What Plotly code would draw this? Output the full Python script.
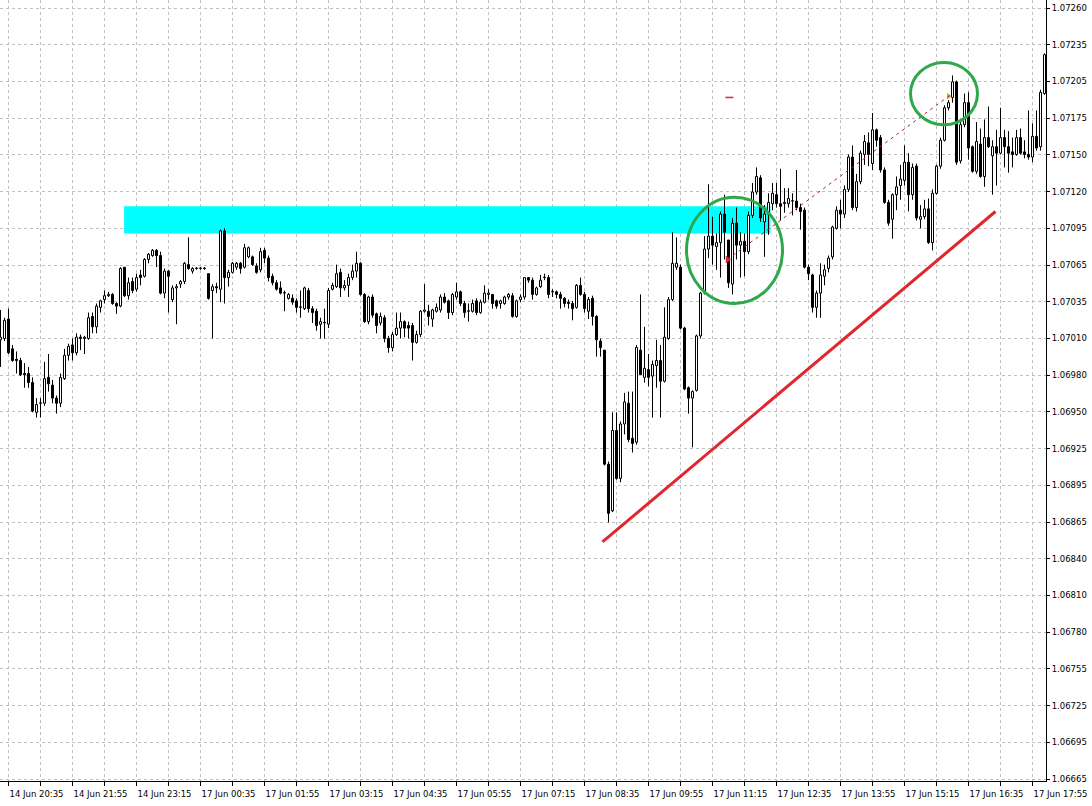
import plotly.graph_objects as go
import numpy as np

# 5-minute bars, prices in points (1e-5)
opens = [
    107004, 107005, 107020, 106997, 106989, 106988, 106978, 106978, 106971, 106948, 106955, 106955, 106975, 106969, 106959, 106955,
    106974, 106992, 107000, 106994, 107006, 107005, 107005, 107022, 107014, 107029, 107035, 107038, 107039, 107032, 107030, 107060, 107038,
    107049, 107043, 107054, 107053, 107066, 107069, 107073, 107069, 107040, 107057, 107035, 107044, 107047, 107049, 107062, 107057,
    107059, 107059, 107059, 107055, 107042, 107045, 107043, 107088, 107052, 107056, 107060, 107063, 107060, 107068, 107068, 107061,
    107058, 107073, 107067, 107053, 107048, 107044, 107040, 107036, 107036, 107034, 107029, 107028, 107042, 107028, 107026, 107016,
    107017, 107016, 107043, 107045, 107056, 107044, 107046, 107052, 107057, 107063, 107039, 107018, 107037, 107024, 107017, 107021, 107005,
    106998, 107008, 107013, 107018, 107015, 107015, 107002, 107008, 107026, 107026, 107020, 107026, 107027, 107037, 107034, 107025,
    107037, 107041, 107032, 107026, 107026, 107034, 107025, 107033, 107039, 107039, 107034, 107032, 107032, 107037, 107038, 107022,
    107035, 107037, 107052, 107050, 107039, 107045, 107052, 107052, 107041, 107041, 107039, 107036, 107033, 107032, 107029, 107046,
    107039, 107026, 107036, 107022, 107003, 106996, 106908, 106872, 106934, 106897, 106939, 106955, 106928, 106925, 106996, 106975, 106981,
    106976, 106984, 106988, 106972, 107005, 107035, 107060, 107060, 107013, 106967, 106959, 106965, 107007, 107040, 107074, 107084,
    107076, 107079, 107101, 107081, 107047, 107094, 107077, 107080, 107072, 107100, 107118, 107129, 107095, 107101, 107109, 107116,
    107109, 107109, 107109, 107111, 107111, 107106, 107104, 107060, 107054, 107029, 107040, 107053, 107059, 107068, 107090, 107104,
    107101, 107120, 107145, 107106, 107126, 107147, 107156, 107140, 107166, 107160, 107135, 107110, 107097, 107116, 107123, 107127, 107141,
    107116, 107138, 107097, 107099, 107105, 107079, 107117, 107138, 107158, 107183, 107191, 107203, 107142, 107170, 107187, 107153,
    107134, 107155, 107130, 107160, 107146, 107153, 107148, 107160, 107153, 107149, 107147, 107160, 107149, 107147, 107145, 107161, 107153, 107194,
]
highs = [
    107027, 107021, 107028, 107000, 106995, 106990, 106986, 106983, 106975, 106959, 106959, 106987, 106993, 106973, 106961, 106978,
    106997, 107001, 107005, 107009, 107008, 107007, 107025, 107025, 107032, 107035, 107042, 107041, 107040, 107033, 107060, 107060, 107052,
    107052, 107055, 107058, 107067, 107071, 107074, 107074, 107072, 107059, 107058, 107046, 107047, 107050, 107064, 107083, 107060,
    107060, 107060, 107060, 107055, 107047, 107048, 107089, 107090, 107058, 107064, 107064, 107064, 107078, 107076, 107069, 107063,
    107075, 107075, 107069, 107055, 107050, 107049, 107042, 107040, 107039, 107036, 107042, 107045, 107044, 107030, 107028, 107021,
    107028, 107044, 107048, 107062, 107059, 107050, 107055, 107062, 107072, 107064, 107040, 107038, 107039, 107025, 107025, 107023, 107007,
    107010, 107025, 107025, 107019, 107018, 107017, 107011, 107027, 107047, 107031, 107028, 107032, 107039, 107040, 107035, 107040,
    107048, 107042, 107034, 107032, 107035, 107036, 107035, 107046, 107043, 107039, 107035, 107035, 107038, 107040, 107040, 107035,
    107039, 107052, 107052, 107052, 107045, 107054, 107055, 107054, 107043, 107042, 107041, 107037, 107035, 107034, 107047, 107052,
    107041, 107037, 107038, 107023, 107005, 106996, 106910, 106948, 106948, 106941, 106963, 106964, 106964, 107000, 107039, 107014, 106993,
    106988, 107004, 107000, 107029, 107037, 107087, 107083, 107062, 107014, 106968, 106965, 107008, 107041, 107084, 107124, 107099,
    107086, 107103, 107116, 107081, 107098, 107106, 107087, 107086, 107103, 107125, 107137, 107131, 107108, 107117, 107125, 107125,
    107136, 107121, 107121, 107117, 107135, 107109, 107106, 107062, 107055, 107042, 107063, 107062, 107069, 107092, 107107, 107112,
    107123, 107147, 107154, 107132, 107150, 107162, 107164, 107179, 107167, 107162, 107137, 107112, 107117, 107130, 107139, 107154, 107148,
    107140, 107140, 107108, 107112, 107113, 107120, 107139, 107160, 107185, 107189, 107208, 107204, 107174, 107194, 107195, 107154,
    107172, 107167, 107174, 107184, 107158, 107166, 107183, 107166, 107165, 107160, 107166, 107167, 107158, 107181, 107171, 107181, 107197, 107225,
]
lows = [
    106983, 107003, 106993, 106987, 106978, 106976, 106967, 106967, 106948, 106944, 106944, 106953, 106964, 106955, 106947, 106952,
    106973, 106988, 106988, 106992, 106996, 106993, 107004, 107009, 107009, 107025, 107032, 107037, 107031, 107024, 107029, 107037, 107035,
    107040, 107041, 107046, 107052, 107063, 107068, 107060, 107039, 107036, 107025, 107033, 107016, 107044, 107047, 107058, 107055,
    107058, 107058, 107058, 107035, 107005, 107040, 107033, 107032, 107045, 107055, 107058, 107055, 107059, 107067, 107061, 107055,
    107056, 107063, 107049, 107046, 107042, 107039, 107026, 107035, 107031, 107025, 107021, 107027, 107025, 107017, 107011, 107005,
    107005, 107013, 107042, 107044, 107037, 107042, 107037, 107050, 107052, 107038, 107017, 107016, 107021, 107009, 107015, 107002, 106994,
    106995, 107007, 107005, 107006, 107005, 106988, 107001, 107006, 107025, 107015, 107014, 107025, 107025, 107032, 107020, 107023,
    107035, 107030, 107021, 107018, 107025, 107023, 107024, 107032, 107035, 107028, 107028, 107028, 107031, 107035, 107021, 107021,
    107033, 107035, 107048, 107035, 107038, 107044, 107050, 107036, 107037, 107036, 107028, 107029, 107028, 107019, 107028, 107038,
    107025, 107020, 107015, 106991, 106991, 106907, 106863, 106871, 106896, 106894, 106931, 106925, 106917, 106923, 106977, 106971, 106968,
    106944, 106967, 106944, 106971, 107004, 107034, 107058, 107012, 106965, 106947, 106921, 106964, 107005, 107039, 107067, 107062,
    107058, 107052, 107066, 107044, 107039, 107066, 107052, 107053, 107070, 107098, 107116, 107095, 107068, 107085, 107104, 107106,
    107096, 107102, 107106, 107100, 107104, 107089, 107059, 107050, 107025, 107021, 107021, 107046, 107056, 107066, 107089, 107090,
    107098, 107118, 107104, 107103, 107124, 107139, 107138, 107135, 107153, 107133, 107109, 107092, 107082, 107104, 107112, 107123, 107103,
    107112, 107096, 107090, 107097, 107078, 107073, 107116, 107136, 107157, 107181, 107187, 107139, 107140, 107168, 107143, 107133,
    107132, 107129, 107122, 107152, 107116, 107123, 107147, 107137, 107133, 107137, 107146, 107147, 107144, 107143, 107141, 107150, 107150, 107193,
]
closes = [
    107006, 107019, 106994, 106988, 106988, 106977, 106977, 106971, 106949, 106954, 106955, 106974, 106970, 106959, 106955, 106975,
    106992, 106999, 106994, 107006, 107005, 107006, 107021, 107014, 107030, 107034, 107038, 107039, 107032, 107030, 107059, 107038, 107048,
    107042, 107052, 107052, 107066, 107070, 107073, 107069, 107040, 107057, 107053, 107044, 107045, 107049, 107063, 107059, 107059,
    107059, 107059, 107059, 107036, 107045, 107044, 107088, 107052, 107056, 107063, 107063, 107059, 107075, 107075, 107062, 107056,
    107072, 107067, 107052, 107048, 107043, 107040, 107040, 107039, 107033, 107029, 107029, 107044, 107028, 107025, 107015, 107018,
    107017, 107042, 107046, 107055, 107044, 107046, 107052, 107057, 107063, 107039, 107018, 107037, 107023, 107015, 107022, 107005, 106998,
    107008, 107013, 107018, 107013, 107013, 107002, 107008, 107026, 107027, 107022, 107027, 107029, 107037, 107033, 107025, 107039,
    107041, 107032, 107025, 107026, 107032, 107025, 107033, 107040, 107040, 107032, 107030, 107034, 107037, 107039, 107022, 107034,
    107037, 107052, 107050, 107039, 107044, 107050, 107052, 107039, 107041, 107039, 107036, 107032, 107032, 107028, 107046, 107039,
    107028, 107035, 107022, 107004, 106998, 106908, 106870, 106934, 106897, 106939, 106956, 106927, 106924, 106998, 106977, 106982, 106975,
    106985, 106988, 106972, 107006, 107035, 107063, 107063, 107013, 106966, 106959, 106964, 107007, 107040, 107074, 107084, 107077,
    107079, 107101, 107087, 107048, 107094, 107077, 107080, 107072, 107100, 107118, 107130, 107098, 107101, 107110, 107117, 107109,
    107107, 107110, 107113, 107111, 107106, 107103, 107060, 107055, 107029, 107040, 107054, 107058, 107067, 107091, 107104, 107101,
    107120, 107145, 107106, 107126, 107148, 107157, 107147, 107166, 107158, 107135, 107110, 107094, 107116, 107122, 107128, 107141, 107116,
    107137, 107098, 107099, 107105, 107079, 107117, 107138, 107158, 107183, 107187, 107203, 107141, 107170, 107187, 107152, 107134,
    107157, 107130, 107160, 107153, 107153, 107148, 107160, 107153, 107148, 107147, 107160, 107148, 107147, 107145, 107161, 107152, 107195, 107224,
]

time_labels = [
    "14 Jun 20:35", "14 Jun 21:55", "14 Jun 23:15", "17 Jun 00:35", "17 Jun 01:55", "17 Jun 03:15",
    "17 Jun 04:35", "17 Jun 05:55", "17 Jun 07:15", "17 Jun 08:35", "17 Jun 09:55", "17 Jun 11:15",
    "17 Jun 12:35", "17 Jun 13:55", "17 Jun 15:15", "17 Jun 16:35", "17 Jun 17:55",
]
price_labels = [
    "1.07260", "1.07235", "1.07205", "1.07175", "1.07150", "1.07120", "1.07095", "1.07065",
    "1.07035", "1.07010", "1.06980", "1.06950", "1.06925", "1.06895", "1.06865", "1.06840",
    "1.06810", "1.06780", "1.06755", "1.06725", "1.06695", "1.06665",
]

# drawn objects (bar index, price)
zone = dict(x0=30.9, x1=192.5, y0=1.07086, y1=1.07107)
trend = dict(x0=150.5, y0=1.06848, x1=248.75, y1=1.07103)
dashed = dict(x0=181.75, y0=1.07066, x1=237.5, y1=1.07193)
circle1 = dict(x0=171.5, x1=195.5, y0=1.07032, y1=1.07114)
circle2 = dict(x0=227.5, x1=244.25, y0=1.07170, y1=1.07218)

o = np.array(opens) / 1e5
h = np.array(highs) / 1e5
l = np.array(lows) / 1e5
c = np.array(closes) / 1e5
h = np.maximum(h, np.maximum(o, c))
l = np.minimum(l, np.minimum(o, c))
idx = np.arange(len(o))
top = np.maximum(o, c)
bot = np.minimum(o, c)
body = np.maximum(top - bot, 0.000004)
up = c >= o

# wicks above and below the bodies
wx, wy = [], []
for k in idx:
    wx += [k, k, None, k, k, None]
    wy += [h[k], top[k], None, bot[k], l[k], None]

fig = go.Figure()
fig.add_trace(go.Scatter(x=wx, y=wy, mode='lines', line=dict(color='black', width=1),
                         showlegend=False, hoverinfo='skip'))
fig.add_trace(go.Bar(x=idx[up], y=body[up], base=bot[up], width=0.5,
                     marker=dict(color='white', line=dict(color='black', width=1)),
                     showlegend=False, hoverinfo='skip'))
fig.add_trace(go.Bar(x=idx[~up], y=body[~up], base=bot[~up], width=0.5,
                     marker=dict(color='black', line=dict(color='black', width=1)),
                     showlegend=False, hoverinfo='skip'))

# markers at ends of the dashed line
fig.add_trace(go.Scatter(x=[dashed['x0']], y=[dashed['y0']], mode='markers',
                         marker=dict(symbol='triangle-right', size=7, color='#E0262E'),
                         showlegend=False, hoverinfo='skip'))
fig.add_trace(go.Scatter(x=[dashed['x1'] - 0.5], y=[dashed['y1'] - 0.00001], mode='markers',
                         marker=dict(symbol='triangle-right', size=6, color='#E0A020'),
                         showlegend=False, hoverinfo='skip'))

fig.add_shape(type='rect', xref='x', yref='y', layer='between', line_width=0,
              fillcolor='#00FFFF', **zone)
fig.add_shape(type='line', xref='x', yref='y', line=dict(color='#E0262E', width=3), **trend)
fig.add_shape(type='line', xref='x', yref='y', line=dict(color='#B22222', width=1, dash='3px,4px'), **dashed)
fig.add_shape(type='line', xref='x', yref='y', line=dict(color='#E0262E', width=1.5),
              x0=181.2, x1=183.2, y0=1.07191, y1=1.07191)
fig.add_shape(type='circle', xref='x', yref='y', line=dict(color='#2EA84A', width=3), **circle1)
fig.add_shape(type='circle', xref='x', yref='y', line=dict(color='#2EA84A', width=3), **circle2)

xtick_vals = [2 + 8 * i for i in range(2 * len(time_labels) - 1)]
xtick_text = []
for i in range(len(xtick_vals)):
    xtick_text.append(time_labels[i // 2] if i % 2 == 0 else '')

ytop, ybot = 1.07260, 1.06665
ytick_vals = list(np.linspace(ytop, ybot, len(price_labels)))

fig.update_layout(
    width=1092, height=806,
    margin=dict(l=0, r=46, t=0, b=25),
    paper_bgcolor='white', plot_bgcolor='white',
    font=dict(family='DejaVu Sans', size=8.5, color='black'),
    showlegend=False, barmode='overlay',
    xaxis=dict(
        range=[-0.125, 261.375], rangeslider=dict(visible=False),
        tickmode='array', tickvals=xtick_vals, ticktext=xtick_text,
        ticklabelposition='outside right', ticklabelstandoff=5,
        ticks='outside', ticklen=4, tickcolor='black',
        showgrid=True, gridcolor='#C0C0C0', griddash='3px,3px', gridwidth=1,
        showline=True, linecolor='black', linewidth=1,
        zeroline=False, fixedrange=True, automargin=False,
    ),
    yaxis=dict(
        side='right', range=[1.066635, 1.072662],
        tickmode='array', tickvals=ytick_vals, ticktext=price_labels,
        ticks='outside', ticklen=3, tickcolor='black',
        showgrid=True, gridcolor='#C0C0C0', griddash='3px,3px', gridwidth=1,
        showline=True, linecolor='black', linewidth=1,
        zeroline=False, fixedrange=True, automargin=False,
    ),
)

# the page body has a default 8px margin; drop it so the figure sits at the window's corner
fig.write_html("out.html", config={'displayModeBar': False},
               post_script="document.body.style.margin='0';")
